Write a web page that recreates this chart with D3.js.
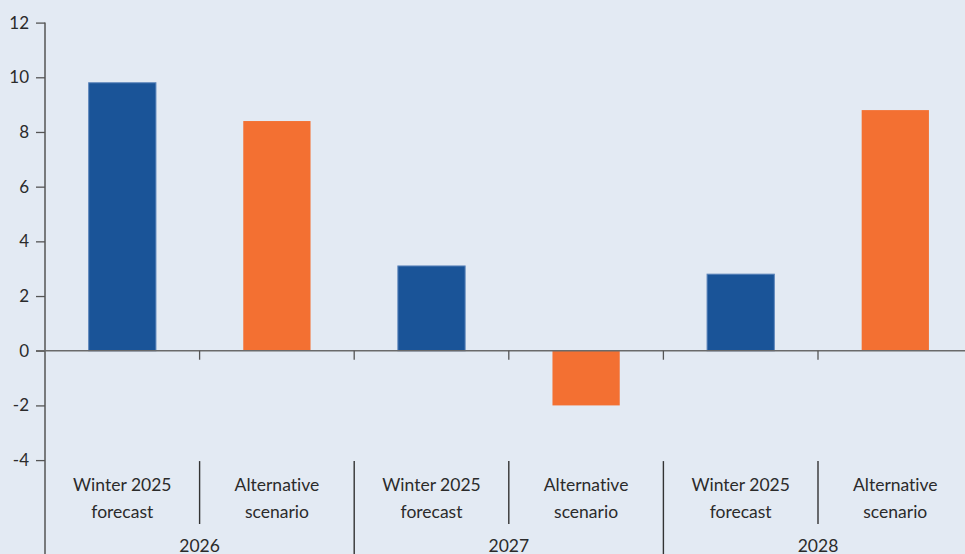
<!DOCTYPE html>
<html>
<head>
<meta charset="utf-8">
<script src="https://cdn.jsdelivr.net/npm/d3@7"></script>
<style>
  html, body { margin: 0; padding: 0; background: #e3eaf3; }
  svg { display: block; font-family: Lato, "Open Sans", sans-serif; font-variant-ligatures: none; }
</style>
</head>
<body>
<svg id="chart" width="965" height="554"></svg>
<script>
// Annual values by year and scenario
const years = ["2026", "2027", "2028"];
const scenarios = ["Winter 2025 forecast", "Alternative scenario"];
const scenarioLines = [["Winter 2025", "forecast"], ["Alternative", "scenario"]];
const winterForecast = [9.8, 3.1, 2.8];
const alternativeScenario = [8.4, -2.0, 8.8];
const yTicks = [-4, -2, 0, 2, 4, 6, 8, 10, 12];
const colors = ["#1a5498", "#f37032"];

(function draw() {
  const W = 965, H = 554;
  const plotLeft = 45, plotRight = 972.6, plotTop = 22.6, plotBottom = 460.1;
  const textColor = "#2b2b2b";
  const lineColor = "#555";

  const svg = d3.select("#chart");

  const rows = [];
  years.forEach((yr, i) => {
    rows.push({ year: yr, scenario: 0, key: yr + "|0", value: winterForecast[i] });
    rows.push({ year: yr, scenario: 1, key: yr + "|1", value: alternativeScenario[i] });
  });

  const x = d3.scaleBand().domain(rows.map(d => d.key)).range([plotLeft, plotRight]).padding(0);
  const xYear = d3.scaleBand().domain(years).range([plotLeft, plotRight]).padding(0);
  const y = d3.scaleLinear().domain([-4, 12]).range([plotBottom, plotTop]);

  const barW = x.bandwidth() * 0.435;

  // Bars
  svg.append("g").selectAll("rect").data(rows).join("rect")
    .attr("x", d => x(d.key) + (x.bandwidth() - barW) / 2)
    .attr("width", barW)
    .attr("y", d => y(Math.max(0, d.value)))
    .attr("height", d => Math.abs(y(d.value) - y(0)))
    .attr("fill", d => colors[d.scenario])
    .attr("stroke", d => d.scenario === 0 ? "#5b84ba" : "none")
    .attr("stroke-width", 1);

  // Y axis (plain hyphen for negatives)
  const yAxis = svg.append("g")
    .attr("transform", `translate(${plotLeft},0)`)
    .call(d3.axisLeft(y).tickValues(yTicks).tickSize(9).tickPadding(7).tickFormat(d => String(d)));
  yAxis.select(".domain").remove();
  yAxis.selectAll(".tick line").attr("stroke", lineColor).attr("stroke-width", 1.3);
  yAxis.selectAll(".tick text")
    .attr("fill", textColor)
    .style("font-size", "17px")
    .style("font-family", "Lato, 'Open Sans', sans-serif");

  svg.append("line")
    .attr("x1", plotLeft).attr("x2", plotLeft)
    .attr("y1", y(12)).attr("y2", H)
    .attr("stroke", lineColor).attr("stroke-width", 1.5);

  // Zero line
  svg.append("line")
    .attr("x1", plotLeft - 9).attr("x2", W)
    .attr("y1", y(0)).attr("y2", y(0))
    .attr("stroke", "#6a6a6a").attr("stroke-width", 1.6);

  // Category boundary ticks on the zero line
  const boundaries = rows.slice(1).map(d => x(d.key));
  svg.append("g").selectAll("line").data(boundaries).join("line")
    .attr("x1", d => d).attr("x2", d => d)
    .attr("y1", y(0)).attr("y2", y(0) + 9)
    .attr("stroke", lineColor).attr("stroke-width", 1.3);

  // Separators in the category label area
  const sepTop = plotBottom + 1;
  svg.append("g").selectAll("line").data(rows.slice(1)).join("line")
    .attr("x1", d => x(d.key)).attr("x2", d => x(d.key))
    .attr("y1", sepTop)
    .attr("y2", d => d.scenario === 0 ? H : 524)
    .attr("stroke", "#333").attr("stroke-width", 1.4);

  // Scenario labels
  const labels = svg.append("g")
    .attr("fill", textColor)
    .attr("text-anchor", "middle")
    .style("font-size", "17.5px");
  rows.forEach(d => {
    const cx = x(d.key) + x.bandwidth() / 2;
    scenarioLines[d.scenario].forEach((line, j) => {
      labels.append("text")
        .attr("x", cx)
        .attr("y", 491 + j * 27)
        .text(line);
    });
  });

  // Year labels
  svg.append("g").selectAll("text").data(years).join("text")
    .attr("x", d => xYear(d) + xYear.bandwidth() / 2)
    .attr("y", 552)
    .attr("text-anchor", "middle")
    .attr("fill", textColor)
    .style("font-size", "17.5px")
    .text(d => d);
})();
</script>
</body>
</html>
